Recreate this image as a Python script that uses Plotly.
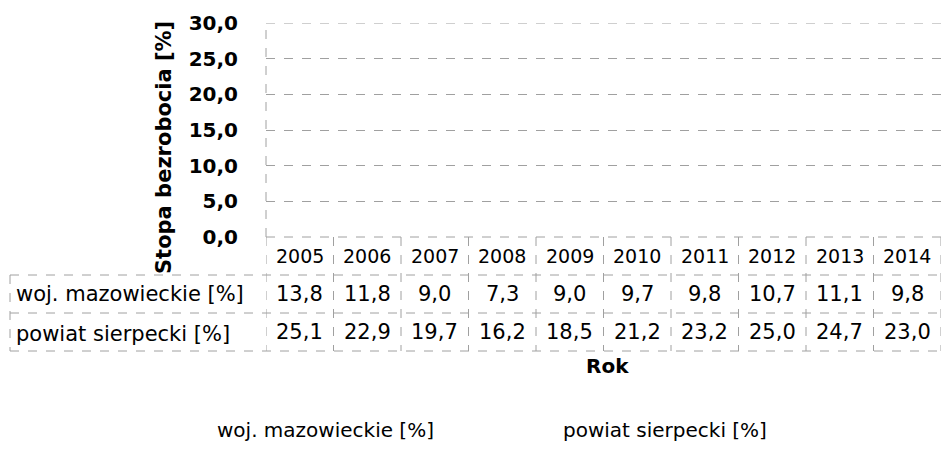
import plotly.graph_objects as go

years = ["2005", "2006", "2007", "2008", "2009", "2010", "2011", "2012", "2013", "2014"]
mazowieckie = [13.8, 11.8, 9.0, 7.3, 9.0, 9.7, 9.8, 10.7, 11.1, 9.8]
sierpecki = [25.1, 22.9, 19.7, 16.2, 18.5, 21.2, 23.2, 25.0, 24.7, 23.0]
series_names = ["woj. mazowieckie [%]", "powiat sierpecki [%]"]
y_ticks = [0, 5, 10, 15, 20, 25, 30]

W, H = 941, 452
L, R, T, B = 266, 0, 23, 215
PW, PH = W - L - R, H - T - B

def py(p):
    return (H - B - p) / PH

def px(p):
    return (p - L) / PW

FONT = "DejaVu Sans"
GRID = "#a0a0a0"

fig = go.Figure()
for name, vals in zip(series_names, [mazowieckie, sierpecki]):
    fig.add_trace(go.Bar(x=years, y=vals, name=name,
                         marker=dict(color="rgba(0,0,0,0)", line=dict(width=0)),
                         hoverinfo="skip"))

fig.update_layout(
    width=W, height=H,
    margin=dict(l=L, r=R, t=T, b=B, autoexpand=False),
    paper_bgcolor="white", plot_bgcolor="white",
    separators=", ",
    font=dict(family=FONT, color="black"),
    showlegend=True,
    legend=dict(orientation="h", x=px(177), y=py(410), xanchor="left", yanchor="top",
                font=dict(size=20, family=FONT), entrywidth=301, entrywidthmode="pixels",
                bgcolor="rgba(0,0,0,0)"),
    barmode="group",
    xaxis=dict(type="category", showticklabels=False, showgrid=False, zeroline=False,
               showline=False, range=[-0.5, 9.5]),
    yaxis=dict(range=[0, 30], tickvals=y_ticks, tickformat=".1f",
               tickfont=dict(size=20, family=FONT, weight="bold"),
               showgrid=True, gridcolor=GRID, griddash="dash", gridwidth=1,
               zeroline=False, showline=False,
               ticks="outside", ticklen=23, tickcolor="rgba(0,0,0,0)"),
)

line_style = dict(color=GRID, width=1, dash="dash")
shapes = []
shapes.append(dict(type="line", xref="paper", yref="paper", x0=0, x1=0, y0=0, y1=1, line=line_style))
shapes.append(dict(type="line", xref="paper", yref="y", x0=0, x1=1, y0=30, y1=30, line=line_style))
shapes.append(dict(type="line", xref="paper", yref="paper", x0=0, x1=1, y0=0, y1=0, line=line_style))
for yy in [275, 313, 351]:
    shapes.append(dict(type="line", xref="paper", yref="paper", x0=px(10), x1=1,
                       y0=py(yy), y1=py(yy), line=line_style))
for i in range(len(years) + 1):
    shapes.append(dict(type="line", xref="x", yref="paper", x0=i - 0.5, x1=i - 0.5,
                       y0=0, y1=py(351), line=line_style))
shapes.append(dict(type="line", xref="paper", yref="paper", x0=px(10), x1=px(10),
                   y0=py(275), y1=py(351), line=line_style))
fig.update_layout(shapes=shapes)

def fmt(v):
    return f"{v:.1f}".replace(".", ",")

ann = []
for i, yr in enumerate(years):
    ann.append(dict(x=i, y=py(256), xref="x", yref="paper", text=yr, showarrow=False,
                    font=dict(size=19, family=FONT), xanchor="center", yanchor="middle"))
    ann.append(dict(x=i, y=py(294), xref="x", yref="paper", text=fmt(mazowieckie[i]), showarrow=False,
                    font=dict(size=21, family=FONT), xanchor="center", yanchor="middle"))
    ann.append(dict(x=i, y=py(332), xref="x", yref="paper", text=fmt(sierpecki[i]), showarrow=False,
                    font=dict(size=21, family=FONT), xanchor="center", yanchor="middle"))
for name, yy in zip(series_names, [294, 334]):
    ann.append(dict(x=px(14), y=py(yy), xref="paper", yref="paper", text=name, showarrow=False,
                    font=dict(size=21, family=FONT), xanchor="left", yanchor="middle"))
ann.append(dict(x=px(607), y=py(366), xref="paper", yref="paper", text="<b>Rok</b>", showarrow=False,
                font=dict(size=20, family=FONT), xanchor="center", yanchor="middle"))
ann.append(dict(x=px(164), y=py(148), xref="paper", yref="paper", text="<b>Stopa bezrobocia [%]</b>",
                showarrow=False, textangle=-90, font=dict(size=21, family=FONT),
                xanchor="center", yanchor="middle"))
fig.update_layout(annotations=ann)

fig.write_html("out.html", config={"displayModeBar": False},
               post_script="document.body.style.margin='0';")
